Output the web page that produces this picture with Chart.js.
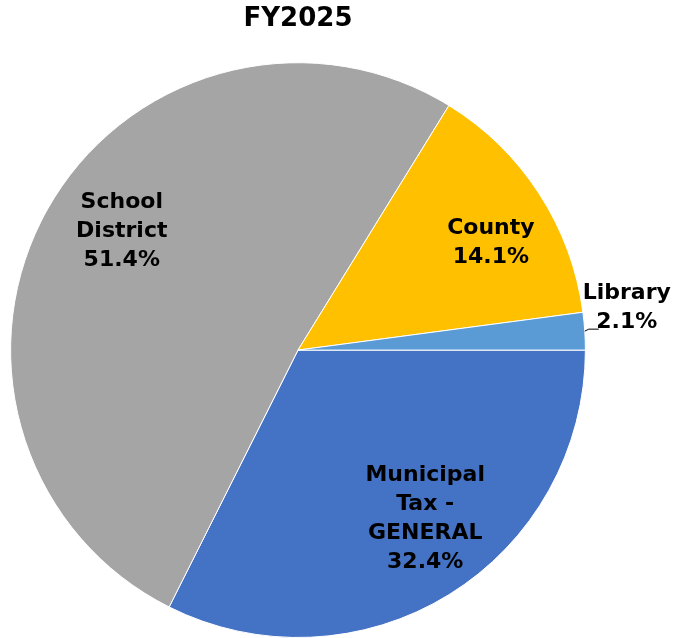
<!DOCTYPE html>
<html>
<head>
<meta charset="utf-8">
<script src="https://cdn.jsdelivr.net/npm/chart.js@4.4.1/dist/chart.umd.min.js"></script>
<style>
  html, body { margin: 0; padding: 0; background: #fff; }
  #wrap { width: 675px; height: 638px; position: relative; }
</style>
</head>
<body>
<div id="wrap"><canvas id="taxPie"></canvas></div>
<script>
// categories and shares (percent), in clockwise order from 3 o'clock
const categories = ['Municipal Tax - GENERAL', 'School District', 'County', 'Library'];
const labelLines = [['Municipal', 'Tax -', 'GENERAL'], ['School', 'District'], ['County'], ['Library']];
const shares = [32.4, 51.4, 14.1, 2.1];
const sliceColors = ['#4472C4', '#A5A5A5', '#FFC000', '#5B9BD5'];

document.addEventListener('DOMContentLoaded', () => {

    const labelFont = 'bold 22px "DejaVu Sans", sans-serif';
    const lineH = 29;
    // small nudges so labels sit where the original put them
    const nudges = [[14, -15], [12, -14], [12, 10], [0, 0]];

    // draws the category + percent labels on each slice
    const sliceLabels = {
        id: 'sliceLabels',
        afterDatasetsDraw(chart) {
            const ctx = chart.ctx;
            const meta = chart.getDatasetMeta(0);
            ctx.save();
            ctx.font = labelFont;
            ctx.fillStyle = '#000';
            ctx.textAlign = 'center';
            ctx.textBaseline = 'middle';
            meta.data.forEach((arc, i) => {
                const p = arc.getProps(['x', 'y', 'startAngle', 'endAngle', 'outerRadius'], true);
                const mid = (p.startAngle + p.endAngle) / 2;
                const lines = labelLines[i].concat([shares[i].toFixed(1) + '%']);
                const outside = shares[i] < 5;
                let cx, cy;
                if (outside) {
                    const ex = p.x + Math.cos(mid) * p.outerRadius;
                    const ey = p.y + Math.sin(mid) * p.outerRadius;
                    cx = ex + 42;
                    cy = ey - 23;
                    // leader line
                    ctx.strokeStyle = '#000';
                    ctx.lineWidth = 1;
                    ctx.beginPath();
                    ctx.moveTo(ex, ey);
                    ctx.lineTo(ex + 4, ey - 2);
                    ctx.lineTo(ex + 14, ey - 2);
                    ctx.stroke();
                } else {
                    const r = p.outerRadius * 0.75;
                    cx = p.x + Math.cos(mid) * r + nudges[i][0];
                    cy = p.y + Math.sin(mid) * r + nudges[i][1];
                }
                const top = cy - (lines.length - 1) * lineH / 2;
                lines.forEach((t, k) => ctx.fillText(t, cx, top + k * lineH));
            });
            ctx.restore();
        }
    };

    const ctx = document.getElementById('taxPie').getContext('2d');
    new Chart(ctx, {
        type: 'pie',
        data: {
            labels: categories,
            datasets: [{
                data: shares,
                backgroundColor: sliceColors,
                borderColor: '#ffffff',
                borderWidth: 1
            }]
        },
        options: {
            responsive: true,
            maintainAspectRatio: false,
            animation: false,
            rotation: 90,
            layout: { padding: { top: 4, left: 10, right: 89, bottom: 0 } },
            plugins: {
                legend: { display: false },
                tooltip: { enabled: false },
                title: {
                    display: true,
                    text: 'FY2025',
                    color: '#000',
                    font: { family: '"DejaVu Sans", sans-serif', size: 26, weight: 'bold', lineHeight: 1.2 },
                    padding: { top: 0, bottom: 27 }
                }
            }
        },
        plugins: [sliceLabels]
    });
});
</script>
</body>
</html>
